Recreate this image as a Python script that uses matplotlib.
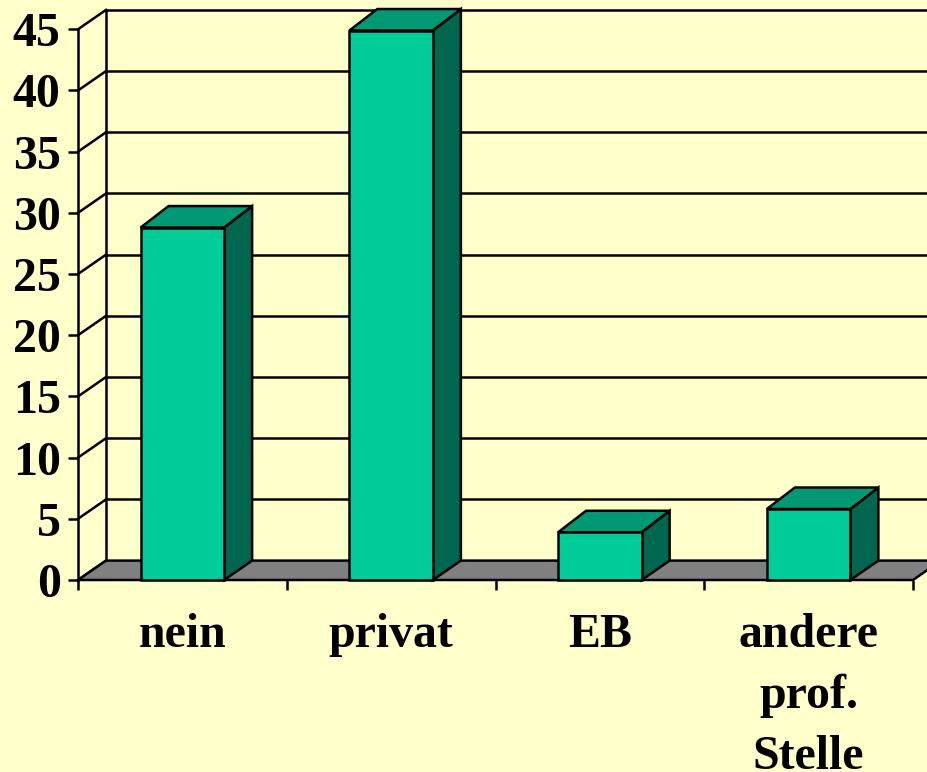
import matplotlib.pyplot as plt
from matplotlib.patches import Polygon, Rectangle

# data
categories = ['nein', 'privat', 'EB', 'andere\nprof.\nStelle']
values = [28.8, 44.9, 3.9, 5.8]
yticks = [0, 5, 10, 15, 20, 25, 30, 35, 40, 45]

bg = '#FFFFCC'
front_col = '#00CC99'
top_col = '#009973'
side_col = '#00664D'
floor_col = '#808080'
lw = 1.8
font = dict(family='Liberation Serif', weight='bold', size=34.5)

fig = plt.figure(figsize=(9.27, 7.72), dpi=100, facecolor=bg)
ax = fig.add_axes([78/927, 192/772, 835/927, 550.7/772])
ax.set_facecolor('none')
ax.set_xlim(0, 4)
ax.set_ylim(0, 45)

# depth of the 3d look, pixels -> data units
xpp = 4/835
ypp = 45/550.7
DX = 28*xpp
DYF = 19.4*ypp
DYB = 21.5*ypp

# back wall + grid
for t in yticks:
    ax.plot([0, DX], [t, t+DYF], color='k', lw=lw, clip_on=False, zorder=1)
    ax.plot([DX, 4+DX+0.3], [t+DYF, t+DYF], color='k', lw=lw, clip_on=False, zorder=1)
ax.plot([DX, DX], [DYF, 45+DYF], color='k', lw=lw, clip_on=False, zorder=1)

# floor
ax.add_patch(Polygon([(0, 0), (4, 0), (4+DX, DYF), (DX, DYF)], closed=True,
                     fc=floor_col, ec='k', lw=lw, clip_on=False, zorder=2, joinstyle='miter'))

# bars
for i, v in enumerate(values):
    x0, x1 = i+0.3, i+0.7
    ax.add_patch(Polygon([(x1, 0), (x1+DX, DYF), (x1+DX, v+DYB), (x1, v)], closed=True,
                         fc=side_col, ec='k', lw=lw, zorder=3, clip_on=False, joinstyle='miter'))
    ax.add_patch(Polygon([(x0, v), (x1, v), (x1+DX, v+DYB), (x0+DX, v+DYB)], closed=True,
                         fc=top_col, ec='k', lw=lw, zorder=3, clip_on=False, joinstyle='miter'))
    ax.add_patch(Rectangle((x0, 0), x1-x0, v, fc=front_col, ec='k', lw=lw, zorder=4,
                           clip_on=False, joinstyle='miter'))

# axes
for s in ['top', 'right', 'bottom']:
    ax.spines[s].set_visible(False)
ax.spines['left'].set_linewidth(lw)
ax.spines['left'].set_zorder(5)
ax.set_yticks(yticks)
ax.set_yticklabels([str(t) for t in yticks], fontdict=font)
ax.tick_params(axis='y', length=7.5, width=lw, pad=5)
ax.set_xticks([0, 1, 2, 3, 4])
ax.set_xticklabels([])
ax.tick_params(axis='x', length=7.5, width=lw)

# category labels, one line at a time
for i, c in enumerate(categories):
    for k, line in enumerate(c.split('\n')):
        ax.annotate(line, xy=(i+0.5, 0), xytext=(0, -48.2 - k*43.9), textcoords='offset points',
                    ha='center', va='baseline', annotation_clip=False, **font)

fig.savefig('out.png', dpi=100, facecolor=bg)
